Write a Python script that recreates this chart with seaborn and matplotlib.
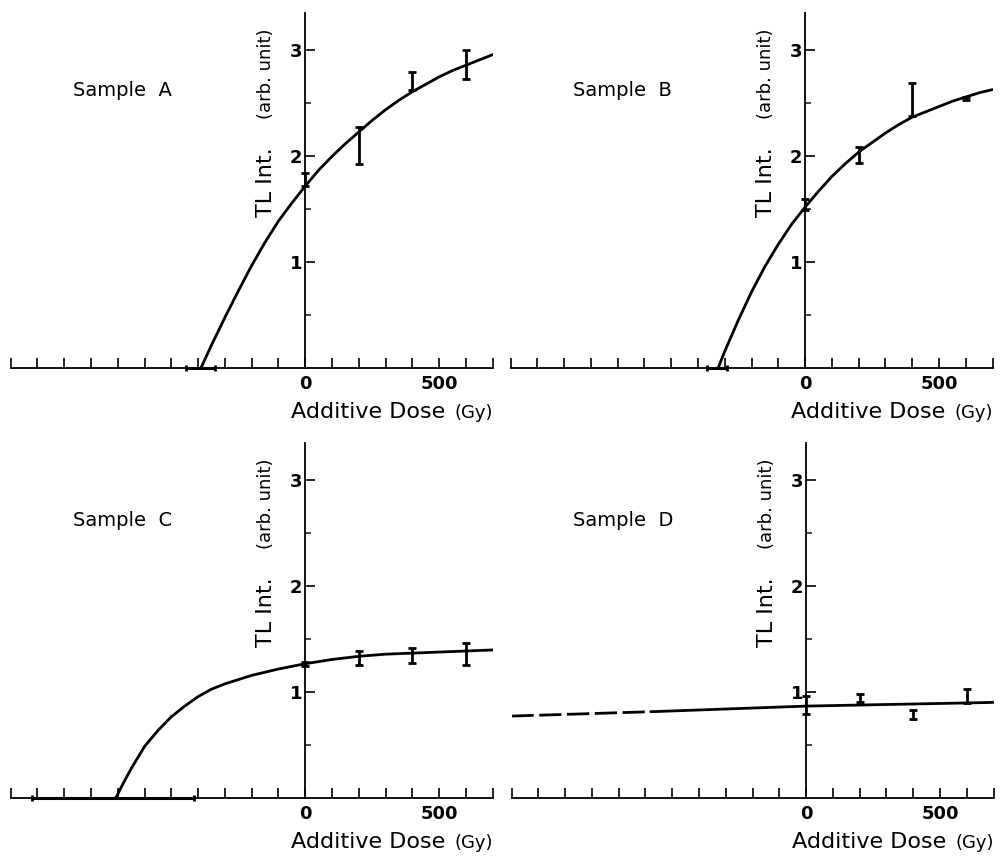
import matplotlib
matplotlib.use('Agg')
import matplotlib.pyplot as plt
import seaborn as sns

sns.set_style('ticks')
plt.rcParams['font.family'] = ['DejaVu Sans']
plt.rcParams['text.color'] = 'black'

# doses of the measured points (Gy)
doses = [0, 200, 400, 600]

# Sample A: error bar ends, fitted curve, x-intercept (lo, centre, hi)
a_lo = [1.72, 1.93, 2.63, 2.73]
a_hi = [1.84, 2.28, 2.80, 3.00]
a_fit_x = [-390, -350, -300, -250, -200, -150, -100, -50, 0, 50, 100, 150, 200,
           250, 300, 350, 400, 450, 500, 550, 600, 650, 700]
a_fit_y = [0.0, 0.22, 0.48, 0.73, 0.97, 1.19, 1.39, 1.56, 1.72, 1.87, 2.00, 2.12, 2.23,
           2.34, 2.44, 2.53, 2.61, 2.68, 2.75, 2.81, 2.86, 2.91, 2.96]
a_icpt = [-447, -390, -338]

# Sample B
b_lo = [1.49, 1.94, 2.38, 2.53]
b_hi = [1.60, 2.09, 2.69, 2.56]
b_fit_x = [-325, -300, -250, -200, -150, -100, -50, 0, 50, 100, 150, 200,
           250, 300, 350, 400, 450, 500, 550, 600, 650, 700]
b_fit_y = [0.0, 0.16, 0.45, 0.72, 0.96, 1.17, 1.36, 1.52, 1.67, 1.81, 1.93, 2.04,
           2.13, 2.22, 2.30, 2.37, 2.42, 2.47, 2.52, 2.56, 2.60, 2.63]
b_icpt = [-366, -325, -291]

# Sample C
c_lo = [1.25, 1.26, 1.275, 1.26]
c_hi = [1.29, 1.39, 1.42, 1.47]
c_fit_x = [-708, -680, -650, -600, -550, -500, -450, -400, -350, -300, -250, -200,
           -150, -100, -50, 0, 100, 200, 300, 400, 500, 600, 700]
c_fit_y = [0.0, 0.14, 0.28, 0.49, 0.64, 0.77, 0.87, 0.96, 1.03, 1.08, 1.12, 1.16,
           1.19, 1.22, 1.245, 1.27, 1.31, 1.34, 1.36, 1.37, 1.38, 1.39, 1.40]
c_icpt = [-1020, -708, -414]

# Sample D: straight line, dashed where extrapolated
d_lo = [0.80, 0.91, 0.75, 0.90]
d_hi = [0.97, 0.98, 0.83, 1.03]
d_fit_x = [-580, 0, 700]
d_fit_y = [0.817, 0.870, 0.905]
d_ext_x = [-1100, -580]
d_ext_y = [0.776, 0.817]

x_ticks = list(range(-1100, 701, 100))
x_ticklabels = ['0' if t == 0 else '500' if t == 500 else '' for t in x_ticks]

fig = plt.figure(figsize=(10.05, 8.58), dpi=100)
W, H = 1005, 858


def make_ax(left_px, base_px):
    # axes box in pixels: x -1100..700 -> 482 px, y 0..3.35 -> 355 px
    return fig.add_axes([left_px / W, (H - base_px) / H, 482 / W, 355 / H])


def draw_panel(ax, name, lo, hi, fx, fy, icpt=None, ext_x=None, ext_y=None):
    sns.lineplot(x=fx, y=fy, ax=ax, color='black', linewidth=2)
    if ext_x is not None:
        sns.lineplot(x=ext_x, y=ext_y, ax=ax, color='black', linewidth=2,
                     linestyle=(0, (8, 2)))
    mid = [(l + h) / 2 for l, h in zip(lo, hi)]
    ax.errorbar(doses, mid, yerr=[[m - l for m, l in zip(mid, lo)],
                                  [h - m for h, m in zip(hi, mid)]],
                fmt='none', ecolor='black', elinewidth=2, capsize=3, capthick=2)
    if icpt is not None:
        ax.errorbar([icpt[1]], [0], xerr=[[icpt[1] - icpt[0]], [icpt[2] - icpt[1]]],
                    fmt='none', ecolor='black', elinewidth=2.2, capsize=2.5,
                    capthick=2, clip_on=False)

    ax.set_xlim(-1100, 700)
    ax.set_ylim(0, 3.35)
    for s in ['top', 'right']:
        ax.spines[s].set_visible(False)
    ax.spines['left'].set_position(('data', 0))
    ax.spines['bottom'].set_position(('data', 0))
    for s in ['left', 'bottom']:
        ax.spines[s].set_linewidth(1.3)
        ax.spines[s].set_color('black')

    ax.set_xticks(x_ticks)
    ax.set_xticklabels(x_ticklabels, fontsize=13, fontweight='bold')
    ax.set_yticks([1, 2, 3])
    ax.set_yticklabels(['1', '2', '3'], fontsize=13, fontweight='bold')
    ax.set_yticks([0.5, 1.5, 2.5], minor=True)
    ax.tick_params(axis='x', direction='in', length=7, width=1.2, pad=5, colors='black')
    ax.tick_params(axis='y', which='major', direction='in', length=7, width=1.2,
                   pad=2, colors='black')
    ax.tick_params(axis='y', which='minor', direction='in', length=4, width=1.2)
    ax.set_xlabel('')
    ax.set_ylabel('')

    ax.text(-683, 2.62, name, fontsize=14, ha='center', va='center')
    ax.text(-146, 2.78, '(arb. unit)', fontsize=13, rotation=90, ha='center', va='center')
    ax.text(-146, 1.76, 'TL Int.', fontsize=16, rotation=90, ha='center', va='center')
    ax.text(522, -0.47, 'Additive Dose', fontsize=16, ha='right', va='baseline')
    ax.text(700, -0.47, '(Gy)', fontsize=13, ha='right', va='baseline')
    ax.set_facecolor('none')


ax_a = make_ax(10.7, 368.3)
draw_panel(ax_a, 'Sample  A', a_lo, a_hi, a_fit_x, a_fit_y, a_icpt)
ax_b = make_ax(510.5, 368.3)
draw_panel(ax_b, 'Sample  B', b_lo, b_hi, b_fit_x, b_fit_y, b_icpt)
ax_c = make_ax(10.7, 798.3)
draw_panel(ax_c, 'Sample  C', c_lo, c_hi, c_fit_x, c_fit_y, c_icpt)
ax_d = make_ax(511.5, 798.3)
draw_panel(ax_d, 'Sample  D', d_lo, d_hi, d_fit_x, d_fit_y, None, d_ext_x, d_ext_y)

fig.savefig('out.png', dpi=100, facecolor='white')
